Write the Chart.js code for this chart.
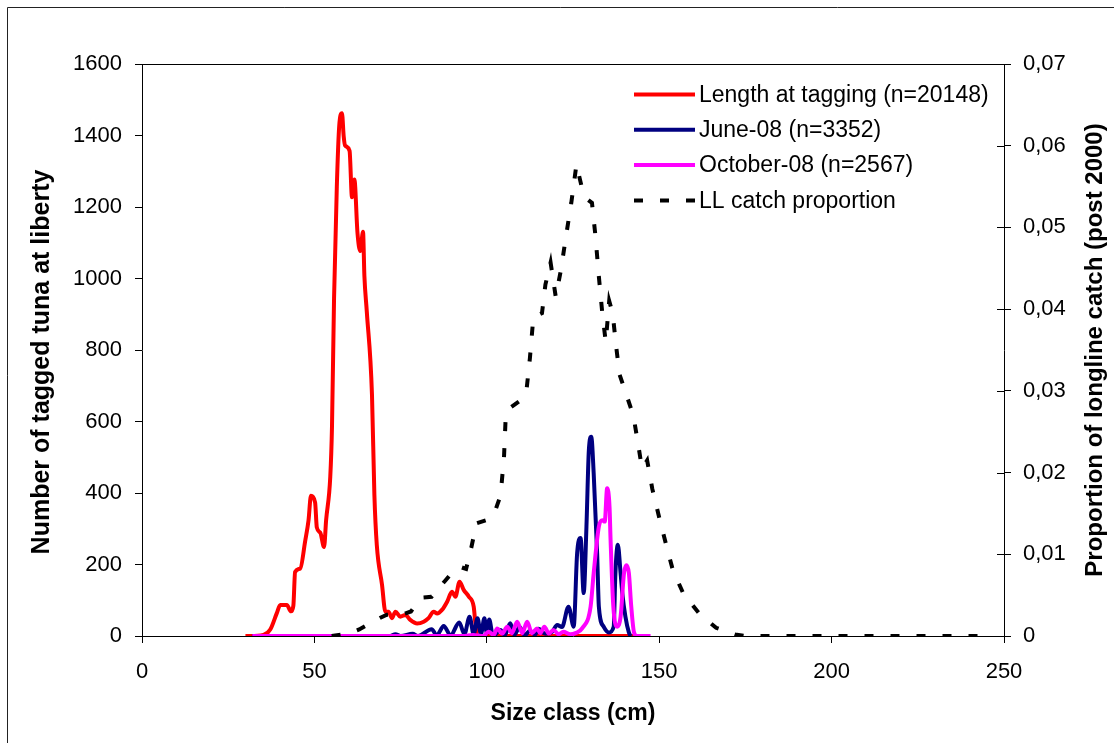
<!DOCTYPE html>
<html>
<head>
<meta charset="utf-8">
<script src="https://cdn.jsdelivr.net/npm/chart.js@4.4.1/dist/chart.umd.min.js"></script>
<style>
  body { margin: 0; background: #fff; }
  #wrap { width: 1114px; height: 743px; }
</style>
</head>
<body>
<div id="wrap"><canvas id="sizeChart" width="1114" height="743"></canvas></div>
<script>
// size class (cm) / number of tagged tuna at liberty
var tagSize  = [30, 31.4, 35.2, 37.2, 39.1, 40.1, 42, 43.2, 43.9, 44.4, 45.9, 47.3, 48.3, 49, 50.2, 50.7, 51.7, 52.8, 53.4, 54.6, 55.1, 55.7, 56.5, 57.2, 58, 58.5, 58.9, 60.2, 60.9, 61.6, 62.5, 63.3, 64.1, 64.5, 65.2, 66.7, 67.4, 68.1, 69.6, 70.6, 71.5, 72.5, 73.5, 74.9, 76.4, 77.8, 79.8, 81.7, 83.1, 84.6, 85.6, 87, 88.5, 89.9, 90.9, 92.1, 93.3, 94.8, 96.2, 96.7, 97.3, 100, 147];
var tagCount = [0, 0, 3, 18, 64, 87, 87, 69, 85, 179, 189, 264, 324, 392, 374, 304, 289, 249, 324, 445, 585, 945, 1256, 1427, 1462, 1397, 1372, 1357, 1227, 1277, 1127, 1077, 1131, 1007, 907, 675, 394, 254, 144, 68, 68, 50, 68, 54, 59, 45, 35, 40, 50, 68, 63, 73, 96, 124, 110, 152, 129, 110, 82, 35, 0, 0, 0];

var juneSize  = [32, 72, 73.5, 75, 78.5, 80, 84, 85.5, 87.5, 89.5, 92, 93.5, 95, 96.2, 97.3, 98.3, 99.3, 100, 100.7, 101.8, 104, 105.2, 106.8, 108, 109.5, 111, 112.5, 114, 115, 117, 119, 120.4, 121.8, 123.7, 125.2, 126.2, 127.2, 128.1, 128.9, 129.6, 130.3, 131, 132, 132.5, 133.9, 135.4, 136.8, 137.3, 138, 138.8, 139.3, 140.2, 141.2, 141.7];
var juneCount = [0, 0, 5, 0, 6, 0, 19, 2, 28, 2, 38, 5, 54, 5, 50, 5, 50, 8, 46, 0, 17, 2, 36, 3, 25, 2, 15, 4, 20, 6, 12, 31, 25, 82, 26, 232, 274, 120, 306, 520, 557, 455, 232, 82, 26, 10, 26, 176, 255, 176, 120, 54, 10, 0];

var octSize  = [32, 93, 96, 99, 100.5, 102, 103, 104.5, 105.9, 107.3, 108.8, 110.3, 111.7, 113.1, 114.6, 115.5, 116.7, 118, 119.3, 120.8, 122.2, 124.2, 125.7, 127.7, 130.1, 131, 132.5, 133.5, 134.2, 134.9, 135.6, 135.9, 136.7, 137.8, 138.8, 139.8, 140.5, 141.2, 141.9, 142.7, 143.6, 147.5];
var octCount = [0, 0, 3, 0, 12, 3, 21, 7, 26, 8, 40, 8, 40, 8, 21, 8, 26, 7, 17, 5, 12, 5, 8, 22, 82, 176, 306, 324, 320, 413, 360, 268, 82, 26, 54, 176, 198, 176, 82, 10, 0, 0];

// longline catch proportion (right axis)
var llSize = [55, 60, 63, 66, 69, 71, 76, 78, 81, 84, 86, 88, 90, 92, 94, 95.5, 97, 100, 102, 104, 105, 105.5, 107, 110, 111.5, 112.5, 113.5, 116, 117, 118.5, 120, 121.5, 123, 124.5, 126, 127.5, 129, 130.5, 131.5, 132.5, 133.5, 134.5, 135.5, 136.5, 137.5, 138.5, 140.5, 142.5, 144, 145, 146.5, 148, 150, 152, 154, 157, 161.5, 166.5, 172, 175, 245];
var llProp = [0, 0.0003, 0.0008, 0.0015, 0.0022, 0.0026, 0.0027, 0.003, 0.0047, 0.0048, 0.0058, 0.0068, 0.0078, 0.0085, 0.0082, 0.0108, 0.0138, 0.0142, 0.0148, 0.0172, 0.022, 0.027, 0.028, 0.0289, 0.030, 0.034, 0.039, 0.0395, 0.043, 0.0457, 0.0415, 0.0448, 0.049, 0.053, 0.0577, 0.055, 0.0535, 0.053, 0.049, 0.044, 0.0395, 0.036, 0.041, 0.0395, 0.0355, 0.032, 0.0295, 0.027, 0.0232, 0.0205, 0.0215, 0.018, 0.0145, 0.0112, 0.008, 0.0052, 0.0028, 0.001, 0.0002, 0, 0];

var seriesNames = ['Length at tagging (n=20148)', 'June-08 (n=3352)', 'October-08 (n=2567)', 'LL catch proportion'];
var leftTitle = 'Number of tagged tuna at liberty';
var rightTitle = 'Proportion of longline catch (post 2000)';

function pts(xs, ys) {
    return xs.map(function (x, i) { return {x: x, y: ys[i]}; });
}

var FONT = "'Liberation Sans', Arial, sans-serif";

// white page, outer frame, plot top border, inward half of the right ticks
var framePlugin = {
    id: 'frame',
    beforeDraw: function (chart) {
        var ctx = chart.ctx;
        ctx.save();
        ctx.fillStyle = '#fff';
        ctx.fillRect(0, 0, chart.width, chart.height);
        ctx.strokeStyle = '#222';
        ctx.lineWidth = 1;
        ctx.beginPath();
        ctx.moveTo(7.5, chart.height);
        ctx.lineTo(7.5, 7.5);
        ctx.lineTo(chart.width, 7.5);
        ctx.stroke();
        ctx.restore();
    },
    afterDraw: function (chart) {
        var ctx = chart.ctx, a = chart.chartArea, y2 = chart.scales.y2;
        ctx.save();
        ctx.strokeStyle = '#000';
        ctx.lineWidth = 1;
        ctx.beginPath();
        ctx.moveTo(a.left, Math.round(a.top) + 0.5);
        ctx.lineTo(a.right, Math.round(a.top) + 0.5);
        y2.ticks.forEach(function (t) {
            var py = Math.round(y2.getPixelForValue(t.value)) + 0.5;
            ctx.moveTo(a.right - 7, py);
            ctx.lineTo(a.right, py);
        });
        ctx.stroke();

        // vertical axis titles, both reading bottom to top
        ctx.fillStyle = '#000';
        ctx.font = 'bold 25px ' + FONT;
        ctx.textAlign = 'center';
        ctx.textBaseline = 'middle';
        ctx.translate(42, 362);
        ctx.rotate(-Math.PI / 2);
        ctx.fillText(leftTitle, 0, 0);
        ctx.setTransform(1, 0, 0, 1, 0, 0);
        ctx.font = 'bold 24px ' + FONT;
        ctx.translate(1095, 350);
        ctx.rotate(-Math.PI / 2);
        ctx.fillText(rightTitle, 0, 0);
        ctx.restore();
    }
};

// legend inside the plot, top right
var legendPlugin = {
    id: 'insideLegend',
    afterDraw: function (chart) {
        var ctx = chart.ctx;
        ctx.save();
        ctx.font = '23px ' + FONT;
        ctx.textBaseline = 'middle';
        ctx.fillStyle = '#000';
        chart.data.datasets.forEach(function (ds, i) {
            var y = 94.5 + i * 35.3;
            ctx.strokeStyle = ds.borderColor;
            ctx.lineWidth = ds.borderWidth;
            ctx.setLineDash(ds.borderDash || []);
            ctx.beginPath();
            ctx.moveTo(634, y);
            ctx.lineTo(695, y);
            ctx.stroke();
            ctx.setLineDash([]);
            ctx.fillText(ds.label, 699, y + 1);
        });
        ctx.restore();
    }
};

function axisLine() {
    return {display: true, drawOnChartArea: false, drawTicks: true, tickLength: 7, color: '#000', tickColor: '#000'};
}

var ctx = document.getElementById('sizeChart').getContext('2d');
var chart = new Chart(ctx, {
    type: 'line',
    data: {
        datasets: [
            {label: seriesNames[0], data: pts(tagSize, tagCount), borderColor: '#ff0000', borderWidth: 4, yAxisID: 'y', order: 3, cubicInterpolationMode: 'monotone'},
            {label: seriesNames[1], data: pts(juneSize, juneCount), borderColor: '#000080', borderWidth: 4, yAxisID: 'y', order: 2, cubicInterpolationMode: 'monotone'},
            {label: seriesNames[2], data: pts(octSize, octCount), borderColor: '#ff00ff', borderWidth: 4, yAxisID: 'y', order: 1, cubicInterpolationMode: 'monotone'},
            {label: seriesNames[3], data: pts(llSize, llProp), borderColor: '#000000', borderWidth: 4, borderDash: [9, 17], yAxisID: 'y2', order: 0, tension: 0}
        ]
    },
    options: {
        responsive: false,
        animation: false,
        devicePixelRatio: 1,
        layout: {padding: {top: 64, left: 0, right: 0, bottom: 0}},
        elements: {point: {radius: 0}},
        plugins: {legend: {display: false}, tooltip: {enabled: false}},
        scales: {
            x: {
                type: 'linear', position: 'bottom', min: 0, max: 250,
                ticks: {stepSize: 50, padding: 16, color: '#000', font: {family: FONT, size: 22}},
                grid: axisLine(),
                border: {display: true, color: '#000', width: 1},
                title: {display: true, text: 'Size class (cm)', color: '#000', font: {family: FONT, size: 23, weight: 'bold'}, padding: {top: 0, bottom: 16}},
                afterFit: function (s) { s.height = 107; }
            },
            y: {
                type: 'linear', position: 'left', min: 0, max: 1600,
                ticks: {
                    stepSize: 200, padding: 13, color: '#000', font: {family: FONT, size: 22},
                    callback: function (v) { return String(v); }
                },
                grid: axisLine(),
                border: {display: true, color: '#000', width: 1},
                afterFit: function (s) { s.width = 142; }
            },
            y2: {
                type: 'linear', position: 'right', min: 0, max: 0.07,
                ticks: {
                    stepSize: 0.01, padding: 12, color: '#000', font: {family: FONT, size: 22},
                    callback: function (v) { return v === 0 ? '0' : v.toFixed(2).replace('.', ','); }
                },
                grid: axisLine(),
                border: {display: true, color: '#000', width: 1},
                afterFit: function (s) { s.width = 110; }
            }
        }
    },
    plugins: [framePlugin, legendPlugin]
});
</script>
</body>
</html>
